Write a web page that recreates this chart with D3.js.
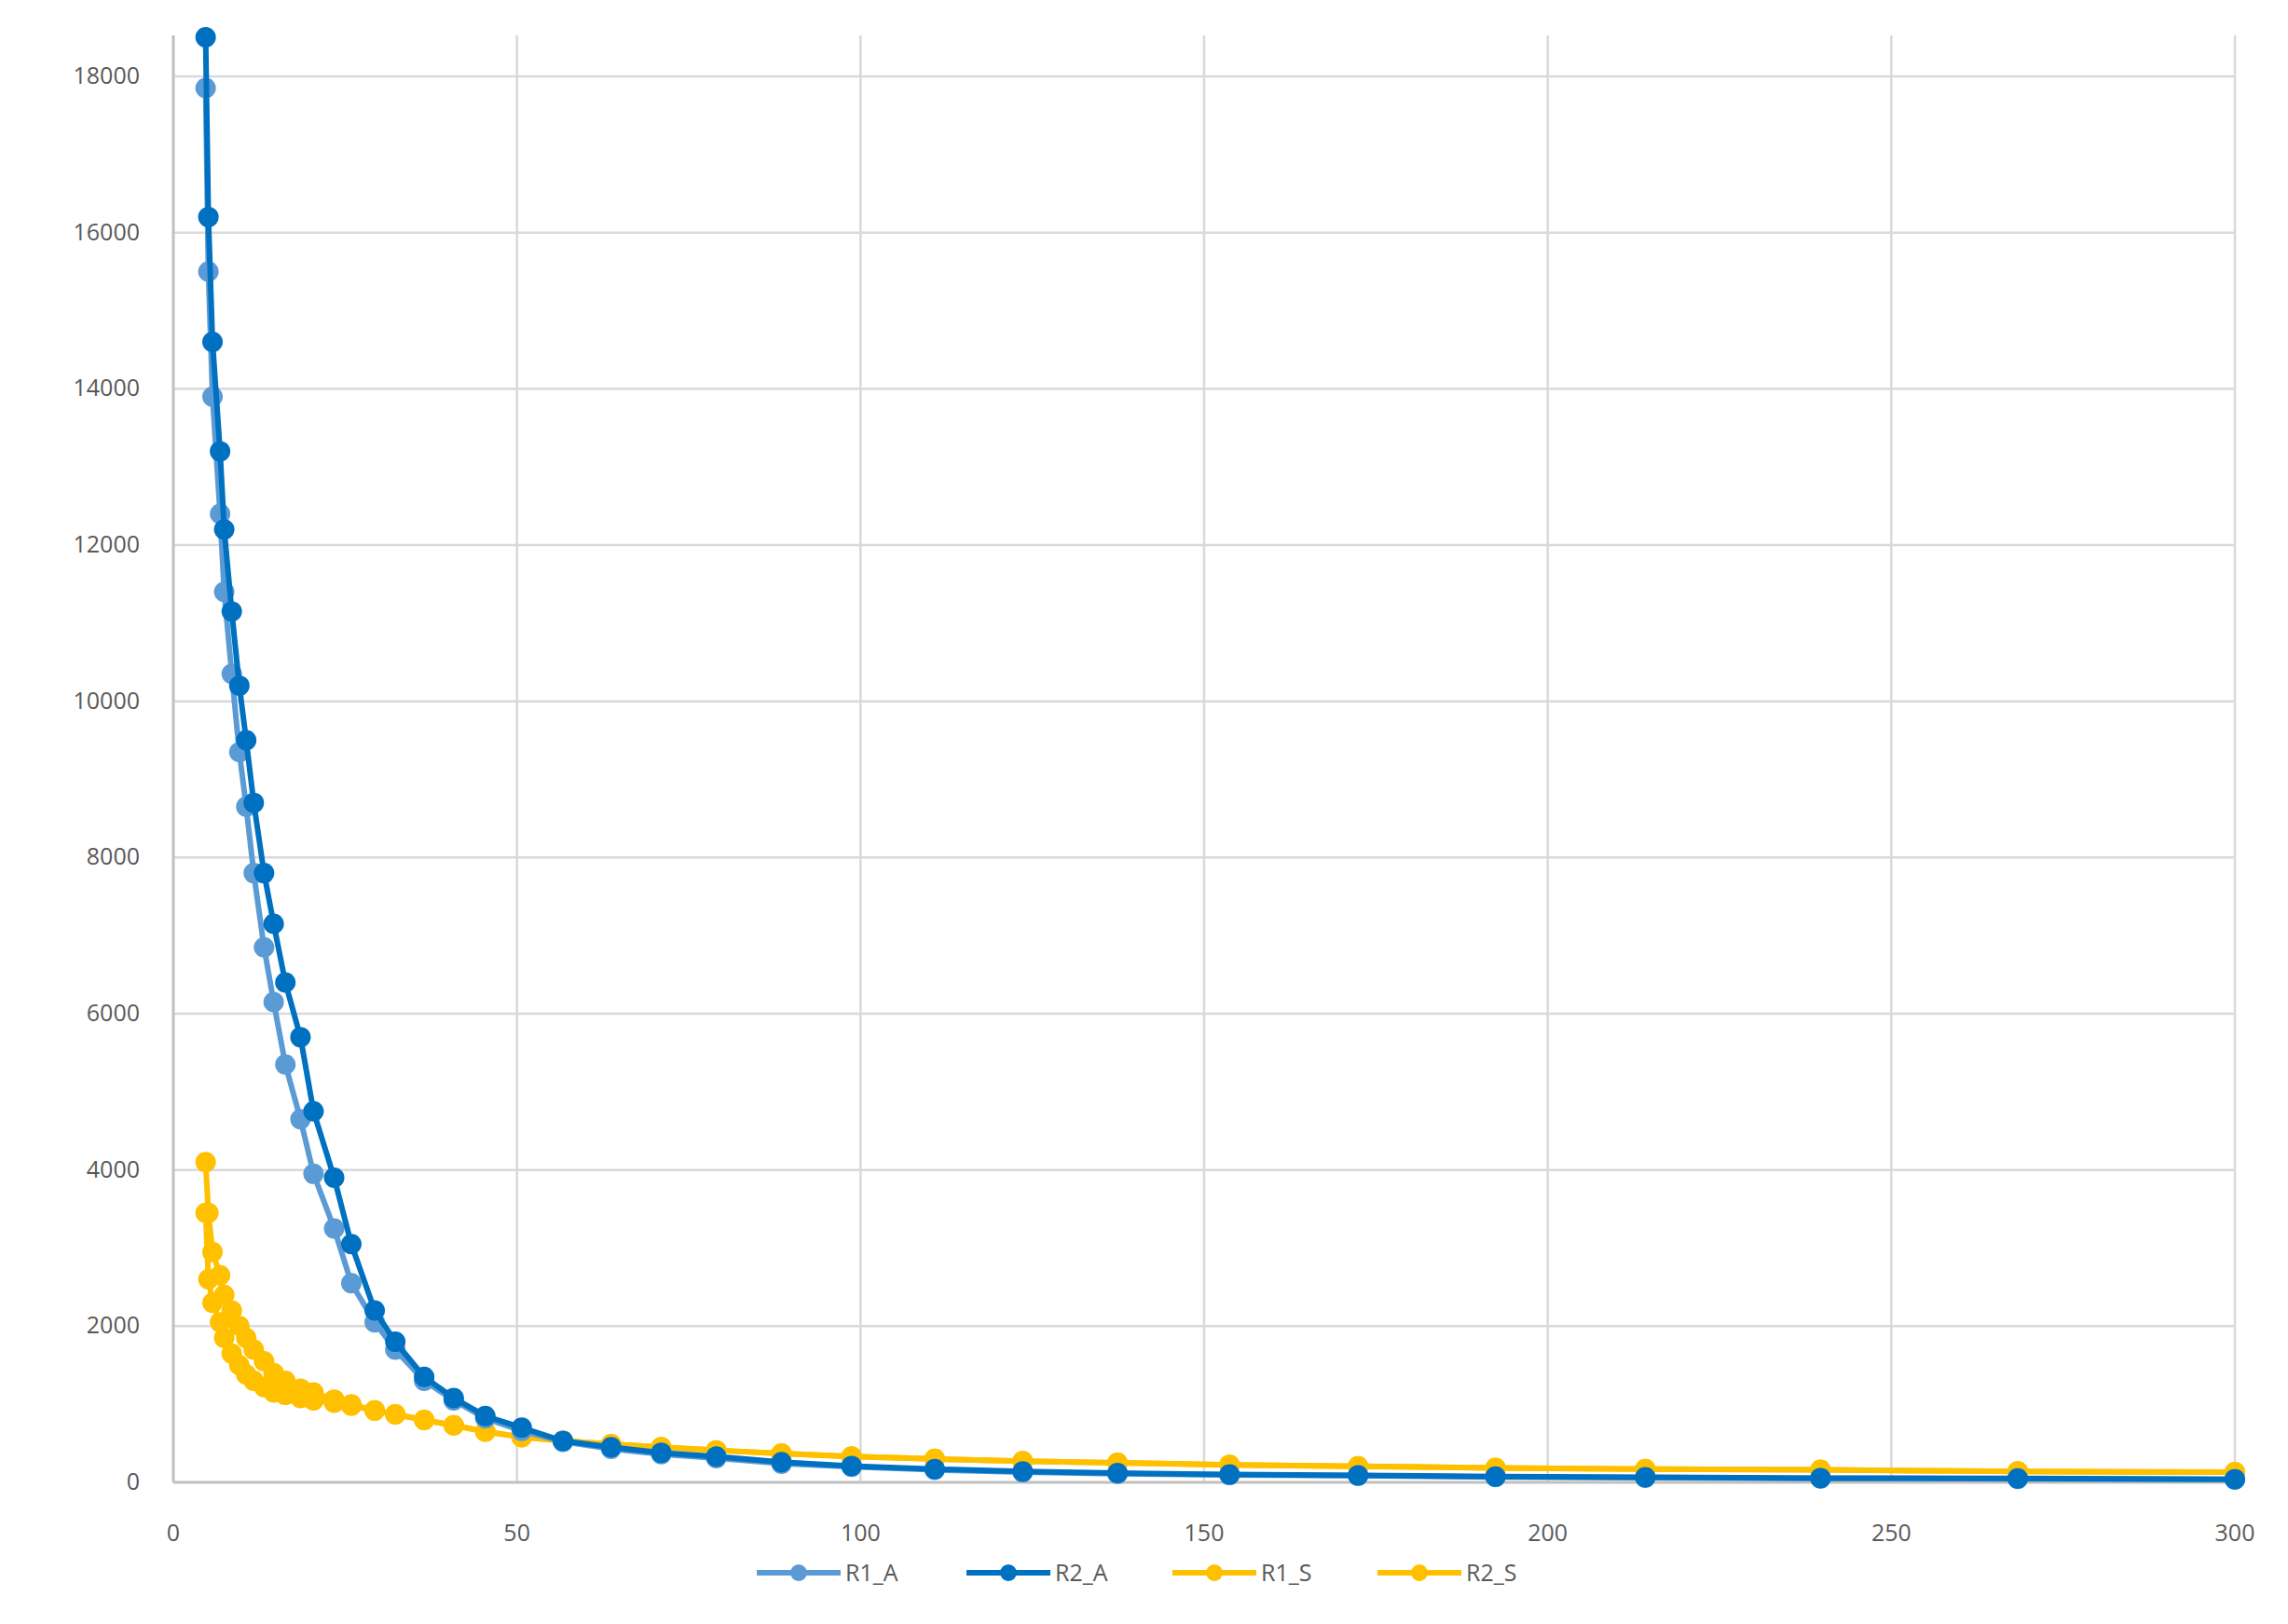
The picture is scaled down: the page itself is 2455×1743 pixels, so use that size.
<!DOCTYPE html>
<html><head><meta charset="utf-8">
<script src="https://cdn.jsdelivr.net/npm/d3@7"></script>
<style>body{margin:0;background:#fff}text{font-family:"Open Sans",Calibri,sans-serif}</style>
</head><body><svg id="chart" width="2455" height="1743"></svg>
<script>
// x positions shared by all series
const xs = [4.7,5.1,5.7,6.8,7.4,8.5,9.6,10.6,11.7,13.2,14.6,16.3,18.5,20.4,23.4,25.9,29.3,32.3,36.5,40.8,45.4,50.7,56.7,63.7,71,79,88.5,98.7,110.8,123.6,137.4,153.7,172.4,192.4,214.2,239.7,268.4,300];
const r1A = [17850,15500,13900,12400,11400,10350,9350,8650,7800,6850,6150,5350,4650,3950,3250,2550,2050,1700,1300,1050,820,660,520,430,360,310,240,200,160,130,110,95,85,70,60,52,46,38];
const r2A = [18500,16200,14600,13200,12200,11150,10200,9500,8700,7800,7150,6400,5700,4750,3900,3050,2200,1800,1350,1080,850,700,530,450,380,330,260,210,170,140,120,100,90,75,65,55,50,40];
const r1S = [4100,3450,2950,2650,2400,2200,2000,1850,1700,1550,1400,1300,1200,1150,1060,1000,920,870,800,730,650,580,530,490,450,410,370,330,300,270,250,225,205,185,170,160,140,130];
const r2S = [3450,2600,2300,2050,1850,1650,1500,1380,1300,1220,1150,1120,1080,1050,1020,980,920,870,800,730,650,580,530,490,450,410,370,330,300,270,250,225,205,185,170,160,140,130];
const seriesNames = ["R1_A","R2_A","R1_S","R2_S"];
const colors = ["#5B9BD5","#0070C0","#FFC000","#FFC000"];
const xTicks = [0,50,100,150,200,250,300];
const yTicks = [0,2000,4000,6000,8000,10000,12000,14000,16000,18000];

const svg = d3.select("#chart");
const x = d3.scaleLinear().domain([0,300]).range([186,2398]);
const y = d3.scaleLinear().domain([0,18000]).range([1591,82]);

// gridlines
svg.append("g").selectAll("line").data(yTicks.slice(1)).join("line")
    .attr("x1",186).attr("x2",2398).attr("y1",d=>y(d)).attr("y2",d=>y(d))
    .attr("stroke","#d9d9d9").attr("stroke-width",2.5);
svg.append("g").selectAll("line").data(xTicks.slice(1)).join("line")
    .attr("x1",d=>x(d)).attr("x2",d=>x(d)).attr("y1",38).attr("y2",1591)
    .attr("stroke","#d9d9d9").attr("stroke-width",2.5);
// axes lines
svg.append("line").attr("x1",186).attr("x2",2398).attr("y1",1591).attr("y2",1591).attr("stroke","#bfbfbf").attr("stroke-width",3);
svg.append("line").attr("x1",186).attr("x2",186).attr("y1",38).attr("y2",1591).attr("stroke","#bfbfbf").attr("stroke-width",3);

svg.append("g").selectAll("text").data(yTicks).join("text")
    .attr("x",150).attr("y",d=>y(d)+8).attr("text-anchor","end")
    .attr("font-size",25).attr("fill","#595959").text(d=>d);
svg.append("g").selectAll("text").data(xTicks).join("text")
    .attr("x",d=>x(d)).attr("y",1654).attr("text-anchor","middle")
    .attr("font-size",25).attr("fill","#595959").text(d=>d);

const data = [r1A,r2A,r1S,r2S];
const line = d3.line().x((d,i)=>x(xs[i])).y(d=>y(d));
// draw in order so dark blue and yellow sit on top
[2,3,0,1].forEach(k=>{
    const g = svg.append("g");
    g.append("path").datum(data[k]).attr("d",line).attr("fill","none")
        .attr("stroke",colors[k]).attr("stroke-width",6);
    g.selectAll("circle").data(data[k]).join("circle")
        .attr("cx",(d,i)=>x(xs[i])).attr("cy",d=>y(d)).attr("r",11).attr("fill",colors[k]);
});

// legend
const lx = [812,1037,1258,1478];
seriesNames.forEach((n,k)=>{
    const g = svg.append("g").attr("transform",`translate(${lx[k]},1688)`);
    g.append("line").attr("x1",0).attr("x2",90).attr("stroke",colors[k]).attr("stroke-width",6);
    g.append("circle").attr("cx",45).attr("r",9).attr("fill",colors[k]);
    g.append("text").attr("x",95).attr("y",9).attr("font-size",25).attr("fill","#595959").text(n);
});
</script></body></html>
